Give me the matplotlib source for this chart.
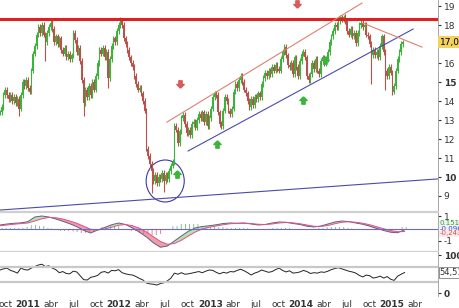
import numpy as np
import pandas as pd
import matplotlib
matplotlib.use('Agg')
import matplotlib.pyplot as plt
import matplotlib.dates as mdates
from matplotlib.patches import Ellipse
from matplotlib.path import Path
from matplotlib.transforms import blended_transform_factory

plt.rcParams['hatch.linewidth'] = 0.6

# weekly closes, starting 10 sep 2010
closes = [
    13.4, 13.7, 14.3, 14.6, 14.3, 14.1, 14.3, 14.0, 14.2, 13.9,
    14.1, 13.6, 14.3, 15.0, 14.8, 15.1, 14.7, 14.5, 15.6, 16.5,
    16.9, 17.5, 17.9, 17.6, 18.0, 17.5, 17.1, 17.6, 17.9, 18.1,
    17.8, 17.1, 17.4, 17.0, 17.3, 16.7, 16.5, 16.8, 16.3, 16.5,
    16.2, 16.4, 17.6, 17.2, 16.6, 16.8, 16.1, 15.1, 13.9, 14.6,
    14.2, 14.8, 14.3, 15.0, 14.6, 15.3, 16.0, 16.7, 16.5, 16.8,
    16.3, 16.6, 15.2, 16.2, 16.9, 17.3, 17.1, 17.7, 18.0, 18.2,
    18.0, 17.3, 17.0, 16.7, 16.3, 16.0, 15.8, 15.3, 14.9, 14.6,
    14.7, 14.4, 14.0, 13.5, 11.5, 11.1, 10.7, 10.3, 9.8, 10.1,
    9.7, 10.0, 9.9, 10.2, 9.8, 10.1, 9.9, 10.3, 10.6, 10.8,
    12.7, 12.5, 11.8, 12.4, 13.1, 13.25, 12.8, 12.3, 12.5, 12.2,
    12.8, 12.9, 12.6, 13.0, 13.3, 13.1, 13.4, 12.9, 13.3, 12.7,
    13.1, 13.6, 14.2, 14.4, 14.3, 13.4, 12.8, 12.7, 13.5, 14.2,
    14.0, 13.5, 13.3, 13.6, 14.5, 14.9, 14.7, 15.1, 15.3, 15.0,
    14.6, 14.4, 14.0, 13.7, 14.1, 13.8, 14.2, 14.1, 14.4, 14.2,
    14.9, 15.2, 15.5, 15.3, 15.6, 15.4, 15.8, 15.6, 15.9, 15.7,
    15.6, 16.2, 16.6, 16.85, 16.4, 15.9, 15.8, 16.0, 15.4, 16.3,
    15.8, 15.3, 16.1, 16.5, 16.6, 16.3, 15.3, 15.1, 15.4, 16.0,
    15.7, 16.2, 15.6, 15.4, 16.1, 16.3, 16.0, 16.2, 16.6, 17.1,
    17.4, 17.7, 18.0, 17.9, 18.2, 18.4, 18.3, 18.45, 18.2, 17.7,
    17.5, 17.8, 17.4, 17.6, 17.05, 17.6, 18.0, 18.1, 17.9, 18.0,
    17.5, 17.4, 17.0, 16.4, 16.7, 16.4, 16.6, 16.3, 16.9, 17.4,
    16.6, 15.6, 15.3, 15.8, 15.5, 14.5, 14.8, 15.6, 16.2, 16.6,
    17.0, 17.09,
]
# long wicks (week index: extreme)
wick_lows = {11: 13.2, 26: 16.1, 48: 13.2, 62: 14.7, 87: 9.15, 94: 9.2,
             213: 14.9, 221: 14.6, 225: 14.3}
wick_highs = {69: 18.45, 197: 18.55}

# MACD, every 4 weeks
macd = [0.28, 0.36, 0.42, 0.45, 0.55, 0.92, 1.0, 0.92, 0.76, 0.58,
        0.38, 0.15, -0.15, -0.36, -0.12, 0.08, 0.3, 0.44, 0.32, 0.04,
        -0.3, -0.68, -1.15, -1.5, -1.4, -1.0, -0.6, -0.22, 0.05, 0.16,
        0.22, 0.3, 0.4, 0.44, 0.42, 0.44, 0.36, 0.28, 0.32, 0.44,
        0.52, 0.5, 0.4, 0.32, 0.18, 0.12, 0.2, 0.36, 0.52, 0.6,
        0.55, 0.44, 0.34, 0.18, 0.0, -0.16, -0.3, -0.34, -0.096]
signal = [0.22, 0.28, 0.34, 0.39, 0.44, 0.6, 0.78, 0.88, 0.86, 0.76,
          0.6, 0.42, 0.18, -0.06, -0.12, -0.04, 0.1, 0.26, 0.32, 0.22,
          0.02, -0.28, -0.66, -1.04, -1.26, -1.2, -0.94, -0.6, -0.28, -0.04,
          0.1, 0.2, 0.3, 0.38, 0.41, 0.42, 0.4, 0.34, 0.32, 0.36,
          0.44, 0.48, 0.45, 0.38, 0.28, 0.18, 0.16, 0.24, 0.38, 0.5,
          0.54, 0.5, 0.42, 0.3, 0.14, -0.02, -0.16, -0.26, -0.243]

# RSI, every 2 weeks
rsi = [61, 64, 66, 60, 57, 53, 66, 62, 61, 66,
       70, 74, 76, 70, 72, 66, 62, 54, 57, 52,
       51, 58, 56, 46, 36, 35, 42, 44, 47, 55,
       57, 53, 60, 59, 62, 54, 51, 49, 48, 44,
       39, 35, 27, 25, 24, 22, 26, 28, 33, 40,
       53, 50, 54, 50, 51, 53, 55, 57, 54, 58,
       61, 60, 55, 51, 55, 53, 57, 56, 60, 63,
       59, 54, 48, 53, 56, 61, 58, 55, 57, 62,
       66, 60, 56, 59, 53, 54, 56, 60, 57, 52,
       54, 53, 56, 55, 58, 62, 65, 67, 64, 61,
       58, 56, 53, 47, 43, 48, 46, 40, 42, 45,
       40, 44, 37, 34, 45, 50, 54.51]

# drawn lines: (start date, start price, end date, end price, colour)
trend_lines = [
    ('2010-09-10', 8.26, '2015-07-04', 9.9, '#4a4ab0'),
    ('2012-10-04', 11.37, '2015-03-26', 17.79, '#4a4ab0'),
    ('2012-07-11', 12.89, '2014-09-02', 19.16, '#e08070'),
    ('2014-09-06', 18.1, '2015-05-01', 16.84, '#e08070'),
]
resistance = 18.32
up_arrows = [('2012-08-21', 10.16), ('2013-01-29', 11.74),
             ('2014-01-09', 14.05), ('2014-04-07', 16.16)]
down_arrows = [('2012-09-02', 14.9), ('2013-12-16', 19.1)]

weeks = pd.date_range('2010-09-10', periods=len(closes), freq='7D')
macd_dates = pd.date_range('2010-09-10', periods=len(macd), freq='28D')
rsi_dates = pd.date_range('2010-09-10', periods=len(rsi), freq='14D')

W, H = 460, 308
fig = plt.figure(figsize=(W / 100, H / 100), dpi=100)
ax = fig.add_axes([0, 1 - 211 / H, 438 / W, 211 / H])
axm = fig.add_axes([0, 1 - 252 / H, 438 / W, 40 / H], sharex=ax)
axr = fig.add_axes([0, 1 - 296 / H, 438 / W, 44 / H], sharex=ax)

# candles
c = np.array(closes)
o = np.concatenate([[c[0]], c[:-1]])
hi = np.maximum(o, c) + 0.15
lo = np.minimum(o, c) - 0.15
for k, v in wick_lows.items():
    lo[k] = v
for k, v in wick_highs.items():
    hi[k] = v
xd = mdates.date2num(weeks)
cols = np.where(c >= o, '#3cb43c', '#b8524a')
ax.vlines(xd, lo, hi, colors=cols, lw=0.8)
ax.bar(xd, np.maximum(np.abs(c - o), 0.08), bottom=np.minimum(o, c),
       width=6, color=cols, linewidth=0)

ax.axhline(resistance, color='#e02020', lw=2.2)
for d0, p0, d1, p1, col in trend_lines:
    ax.plot([pd.Timestamp(d0), pd.Timestamp(d1)], [p0, p1], color=col, lw=0.8)

ax.add_patch(Ellipse((mdates.date2num(pd.Timestamp('2012-07-04')), 9.79),
                     width=153, height=2.21, fill=False, ec='#3a3aa0', lw=0.8))

arrow = Path([(0, 1), (-1, 0), (-0.45, 0), (-0.45, -1), (0.45, -1),
              (0.45, 0), (1, 0), (0, 1)])
down = Path(arrow.vertices * [1, -1])
ax.scatter(pd.to_datetime([a[0] for a in up_arrows]), [a[1] for a in up_arrows],
           marker=arrow, s=28, color='#3cb43c', zorder=5)
ax.scatter(pd.to_datetime([a[0] for a in down_arrows]), [a[1] for a in down_arrows],
           marker=down, s=28, color='#d85a5a', zorder=5)

ax.set_xlim(pd.Timestamp('2010-09-10'), pd.Timestamp('2015-07-04'))
ax.set_ylim(8.21, 19.32)

# MACD panel
m = np.array(macd)
s = np.array(signal)
hist = m - s
md = mdates.date2num(macd_dates)
axm.bar(md, hist, width=28, facecolor='none',
        edgecolor=np.where(hist >= 0, '#70c070', '#e07090'), hatch='||||', linewidth=0)
axm.fill_between(md, m, s, where=m >= s, interpolate=True, color='#7fd07f', alpha=0.6, lw=0)
axm.fill_between(md, m, s, where=m < s, interpolate=True, color='#e06070', alpha=0.6, lw=0)
axm.plot(md, m, color='#6a5a80', lw=0.7)
axm.plot(md, s, color='#e0508a', lw=0.7)
axm.axhline(0, color='#6a6ac8', lw=0.8)
axm.set_ylim(-1.88, 1.32)

# RSI panel
axr.plot(rsi_dates, rsi, color='#222222', lw=0.7)
axr.axhline(70, color='#c8c8c8', lw=1.6)
axr.axhline(30, color='#c8c8c8', lw=1.6)
axr.set_ylim(-6.5, 107.8)

# axes styling
for a in (ax, axm, axr):
    for side in ('left', 'top', 'bottom'):
        a.spines[side].set_visible(False)
    a.spines['right'].set_color('#999999')
    a.spines['right'].set_linewidth(0.6)
    a.yaxis.tick_right()
    a.tick_params(axis='y', labelsize=6.5, length=2, pad=2, colors='#333333')
    a.tick_params(axis='x', length=0)
for side in ('top', 'bottom'):
    axm.spines[side].set_visible(True)
    axm.spines[side].set_color('#d0d0d0')
    axm.spines[side].set_linewidth(1.6)

# the 17 tick sits under the last-price box
price_ticks = [9, 10, 11, 12, 13, 14, 15, 16, 18, 19]
ax.set_yticks(price_ticks)
ax.set_yticklabels([str(t) for t in price_ticks])
for t in ax.get_yticklabels():
    if t.get_text() in ('10', '15'):
        t.set_fontweight('bold')
axm.set_yticks([1, -1])
axm.set_yticklabels(['1', '-1'])
axr.set_yticks([100, 0])
axr.set_yticklabels(['100', '0'], fontweight='bold')

ticks = pd.date_range('2010-10-01', '2015-04-01', freq='QS')
month_names = {1: '', 4: 'abr', 7: 'jul', 10: 'oct'}
axr.set_xticks(ticks)
axr.set_xticklabels([str(t.year) if t.month == 1 else month_names[t.month] for t in ticks])
for t, lab in zip(ticks, axr.get_xticklabels()):
    lab.set_fontsize(6.5)
    lab.set_color('#333333')
    if t.month == 1:
        lab.set_fontweight('bold')
axr.tick_params(axis='x', pad=3)
plt.setp(ax.get_xticklabels(), visible=False)
plt.setp(axm.get_xticklabels(), visible=False)

# last value labels
tr = blended_transform_factory(ax.transAxes, ax.transData)
ax.text(1.004, 17.09, '17,09', transform=tr, fontsize=6.5, va='center', ha='left',
        clip_on=False, bbox=dict(boxstyle='square,pad=0.15', fc='#f3d35a', ec='none'))
trm = blended_transform_factory(axm.transAxes, axm.transData)
for y, txt, col, fc in [(0.4, '0,151', '#3a9a3a', '#eaf6ea'),
                        (0.0, '-0,096', '#4a4ab0', '#eeeeff'),
                        (-0.4, '-0,243', '#d05050', '#fbeaea')]:
    axm.text(1.004, y, txt, transform=trm, fontsize=5, va='center', ha='left',
             color=col, clip_on=False,
             bbox=dict(boxstyle='square,pad=0.05', fc=fc, ec='none'))
trr = blended_transform_factory(axr.transAxes, axr.transData)
axr.text(1.004, 54.51, '54,51', transform=trr, fontsize=6, va='center', ha='left',
         color='#333333', clip_on=False,
         bbox=dict(boxstyle='square,pad=0.12', fc='white', ec='#666666', lw=0.5))

fig.savefig('out.png', dpi=100)
